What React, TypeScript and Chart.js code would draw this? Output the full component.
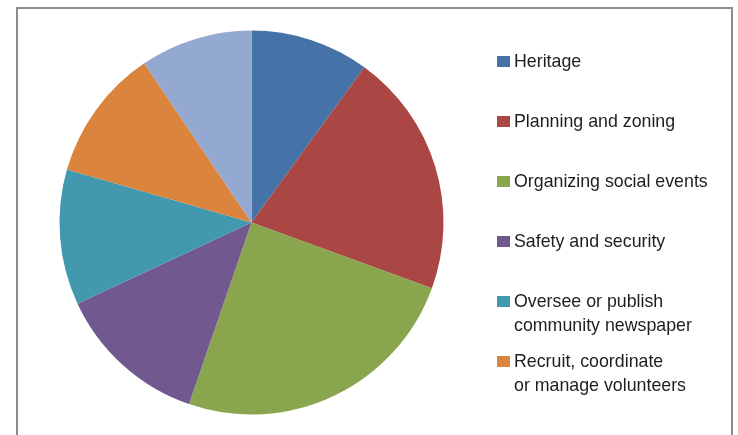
import React, { useEffect, useRef } from "react";
import { Chart, registerables } from "chart.js";

Chart.register(...registerables);

const categories: string[][] = [
  ["Heritage"],
  ["Planning and zoning"],
  ["Organizing social events"],
  ["Safety and security"],
  ["Oversee or publish", "community newspaper"],
  ["Recruit, coordinate", "or manage volunteers"],
  ["Other"],
];
const values: number[] = [36, 74, 89, 46, 41, 40, 34];
const colors: string[] = [
  "#4572A7",
  "#AA4643",
  "#89A54E",
  "#71588F",
  "#4198AF",
  "#DB843D",
  "#93A9CF",
];

export default function App() {
  const ref = useRef<HTMLCanvasElement | null>(null);

  useEffect(() => {
    if (!ref.current) return;
    const chart = new Chart(ref.current, {
      type: "pie",
      data: {
        labels: categories.map((c) => c.join(" ")),
        datasets: [
          {
            data: values,
            backgroundColor: colors,
            borderWidth: 0,
          },
        ],
      },
      options: {
        animation: false,
        responsive: false,
        maintainAspectRatio: false,
        layout: { padding: { left: 59.5, right: 294.5, top: 30.5, bottom: 20.5 } },
        plugins: {
          legend: { display: false },
          tooltip: { enabled: false },
        },
      },
    });
    return () => chart.destroy();
  }, []);

  return (
    <div
      style={{
        position: "absolute",
        left: 0,
        top: 0,
        width: 738,
        height: 435,
        overflow: "hidden",
        background: "#fff",
      }}
    >
      <div
        style={{
          position: "absolute",
          left: 16,
          top: 7,
          width: 713,
          height: 520,
          border: "2px solid #8c8c8c",
        }}
      />
      <canvas
        ref={ref}
        width={738}
        height={435}
        style={{ position: "absolute", left: 0, top: 0, width: 738, height: 435 }}
      />
      <div
        style={{
          position: "absolute",
          left: 0,
          top: 0,
          width: 730,
          height: 404,
          overflow: "hidden",
          fontFamily: '"Liberation Sans", Arial, sans-serif',
          fontSize: 17.8,
          lineHeight: "24px",
          color: "#1e1e1e",
        }}
      >
        {categories.map((lines, i) => (
          <div key={i} style={{ position: "absolute", left: 497, top: 48.8 + 60 * i }}>
            <div
              style={{
                position: "absolute",
                left: 0,
                top: 7.2,
                width: 13,
                height: 11,
                background: colors[i],
              }}
            />
            <div style={{ position: "absolute", left: 17, top: 0, whiteSpace: "nowrap" }}>
              {lines.map((l, j) => (
                <div key={j}>{l}</div>
              ))}
            </div>
          </div>
        ))}
      </div>
    </div>
  );
}
